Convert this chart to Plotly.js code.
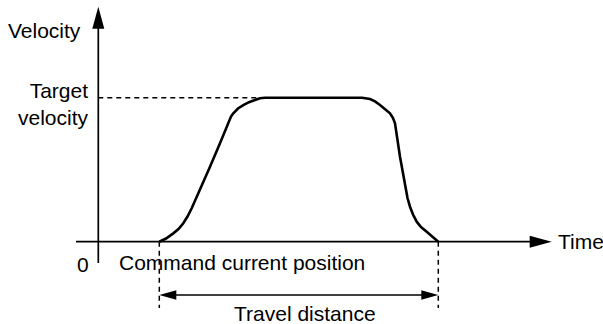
<!DOCTYPE html>
<html>
<head>
<meta charset="utf-8">
<script src="https://cdn.plot.ly/plotly-3.0.1.min.js"></script>
<style>html,body{margin:0;padding:0;background:#fff;}#chart{width:603px;height:324px;}</style>
</head>
<body>
<div id="chart"></div>
<script>
// Velocity profile (time in arbitrary units, velocity relative to target velocity)
const timePoints = [6.10, 6.77, 7.50, 8.02, 8.50, 8.92, 9.34, 10.17, 11.17, 12.17, 13.00, 13.27, 13.50, 13.97,
                    14.50, 15.07, 15.67, 16.17, 16.67,
                    26.37, 27.17, 27.67, 28.17, 28.67, 29.17, 29.47, 29.67, 30.17, 30.67, 30.92, 31.17,
                    31.47, 31.84, 32.27, 32.84, 33.37, 34.00];
const velocityPoints = [0.000, 0.022, 0.058, 0.088, 0.128, 0.175, 0.232, 0.359, 0.521, 0.683, 0.833, 0.869, 0.892, 0.925,
                        0.949, 0.969, 0.984, 0.996, 1.000,
                        1.000, 0.991, 0.974, 0.949, 0.922, 0.892, 0.859, 0.822, 0.590, 0.382, 0.303, 0.243,
                        0.189, 0.139, 0.102, 0.069, 0.040, 0.000];
const targetVelocity = 1.0;
const targetReachedTime = 16.67;
const moveStart = 6.10;   // command current position
const moveEnd = 34.00;    // end of travel
const timeAxisExtent = [-2.23, 45.34];
const velocityAxisExtent = [-0.148, 1.632];
const travelArrowLevel = -0.370;
const dashedBottom = -0.460;

const labelFont = {family: 'Liberation Sans, Arial, sans-serif', size: 21, color: '#000'};
const axisLabels = {velocity: 'Velocity', target: 'Target<br>velocity', time: 'Time', zero: '0',
                    position: 'Command current position', distance: 'Travel distance'};

// scale helpers (data units per pixel) used to size arrowheads
const tPerPx = 0.1, vPerPx = 1 / 144;

function tri(tipX, tipY, dir, len, half) {
  let p;
  if (dir === 'right') p = [[tipX, tipY], [tipX - len * tPerPx, tipY + half * vPerPx], [tipX - len * tPerPx, tipY - half * vPerPx]];
  else if (dir === 'left') p = [[tipX, tipY], [tipX + len * tPerPx, tipY + half * vPerPx], [tipX + len * tPerPx, tipY - half * vPerPx]];
  else p = [[tipX, tipY], [tipX - half * tPerPx, tipY - len * vPerPx], [tipX + half * tPerPx, tipY - len * vPerPx]];
  return {type: 'path', xref: 'x', yref: 'y', path: 'M' + p.map(q => q[0] + ',' + q[1]).join(' L') + ' Z',
          fillcolor: '#000', line: {width: 0}};
}

const dashStyle = {color: '#000', width: 1.5, dash: '5px,4px'};
const shapes = [
  {type: 'line', xref: 'x', yref: 'y', x0: timeAxisExtent[0], x1: timeAxisExtent[1] - 1.5, y0: 0, y1: 0, line: {color: '#000', width: 1.7}},
  tri(timeAxisExtent[1], 0, 'right', 22, 6),
  {type: 'line', xref: 'x', yref: 'y', x0: 0, x1: 0, y0: velocityAxisExtent[0], y1: velocityAxisExtent[1] - 0.1, line: {color: '#000', width: 1.7}},
  tri(0, velocityAxisExtent[1], 'up', 22, 6),
  {type: 'line', xref: 'x', yref: 'y', x0: 0, x1: targetReachedTime, y0: targetVelocity, y1: targetVelocity, line: dashStyle},
  {type: 'line', xref: 'x', yref: 'y', x0: moveStart, x1: moveStart, y0: 0, y1: dashedBottom, line: dashStyle},
  {type: 'line', xref: 'x', yref: 'y', x0: moveEnd, x1: moveEnd, y0: 0, y1: dashedBottom, line: dashStyle},
  {type: 'line', xref: 'x', yref: 'y', x0: moveStart + 1, x1: moveEnd - 1, y0: travelArrowLevel, y1: travelArrowLevel, line: {color: '#000', width: 1.5}},
  tri(moveStart, travelArrowLevel, 'left', 17, 4.7),
  tri(moveEnd, travelArrowLevel, 'right', 17, 4.7)
];

const annotations = [
  {x: -1.66, y: 1.470, text: axisLabels.velocity, xanchor: 'right', yanchor: 'middle'},
  {x: -0.83, y: 0.956, text: axisLabels.target, xanchor: 'right', yanchor: 'middle', align: 'right'},
  {x: -1.5, y: -0.160, text: axisLabels.zero, xanchor: 'center', yanchor: 'middle'},
  {x: 1.95, y: -0.141, text: axisLabels.position, xanchor: 'left', yanchor: 'middle'},
  {x: 13.45, y: -0.497, text: axisLabels.distance, xanchor: 'left', yanchor: 'middle'},
  {x: 45.85, y: 0, text: axisLabels.time, xanchor: 'left', yanchor: 'middle'}
].map(a => Object.assign({xref: 'x', yref: 'y', showarrow: false, font: labelFont, borderpad: 0}, a));

const trace = {
  x: timePoints, y: velocityPoints, type: 'scatter', mode: 'lines',
  line: {color: '#000', width: 2.6, shape: 'linear'}, hoverinfo: 'skip'
};

const layout = {
  width: 603, height: 324,
  margin: {l: 0, r: 0, t: 0, b: 0},
  paper_bgcolor: '#fff', plot_bgcolor: '#fff',
  showlegend: false,
  xaxis: {range: [-9.83, 50.47], visible: false, fixedrange: true},
  yaxis: {range: [-0.5715, 1.6785], visible: false, fixedrange: true},
  shapes: shapes,
  annotations: annotations
};

Plotly.newPlot('chart', [trace], layout, {staticPlot: true, displayModeBar: false});
</script>
</body>
</html>
